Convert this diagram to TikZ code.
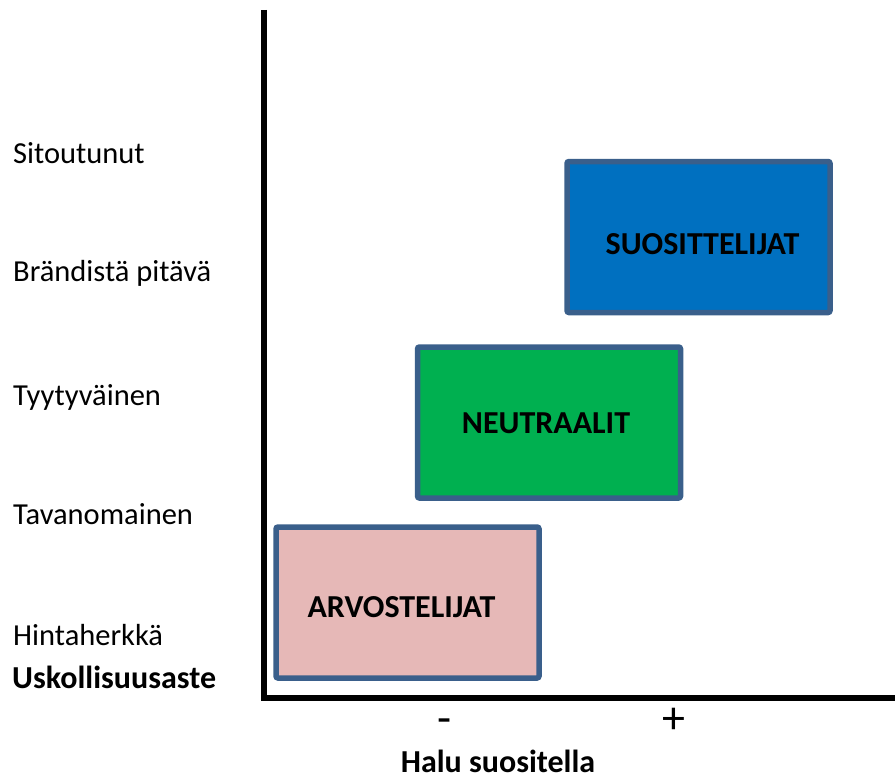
\documentclass[tikz,border=0pt]{standalone}
\usepackage{fontspec}
\setmainfont{Carlito}
\definecolor{boxline}{HTML}{3A5F8B}
\definecolor{redfill}{HTML}{E6B8B7}
\definecolor{greenfill}{HTML}{00B050}
\definecolor{bluefill}{HTML}{0070C0}
\begin{document}
\begin{tikzpicture}[x=1pt,y=-1pt,
  segbox/.style={draw=boxline,line width=5.5pt,rounded corners=2pt,minimum width=263pt,minimum height=151pt,inner sep=0pt},
  boxtext/.style={anchor=base,inner sep=0pt,font=\fontsize{32}{38}\selectfont\bfseries},
  lbl/.style={anchor=base west,inner sep=0pt,font=\fontsize{30.5}{36}\selectfont},
  axislbl/.style={anchor=base,inner sep=0pt,font=\fontsize{32}{38}\selectfont},
  signlbl/.style={anchor=base,inner sep=0pt,font=\fontsize{46}{50}\selectfont}]
\useasboundingbox (0,0) rectangle (895,776);
\coordinate (top) at (264,10);
\coordinate (origin) at (264,697.5);
\coordinate (right) at (895,697.5);
\draw[line width=6pt] (top) -- (origin) -- (right);
\node[segbox,fill=redfill] (arv) at (407.5,602.5) {};
\node[segbox,fill=greenfill] (neu) at (549,422.5) {};
\node[segbox,fill=bluefill] (suo) at (698.5,237) {};
\node[boxtext] (arvt) at (401.5,617) {ARVOSTELIJAT};
\node[boxtext] (neut) at (546,433) {NEUTRAALIT};
\node[boxtext] (suot) at (702.5,254) {SUOSITTELIJAT};
\node[lbl] (l1) at (13,163) {Sitoutunut};
\node[lbl] (l2) at (13,281) {Brändistä pitävä};
\node[lbl] (l3) at (13,405) {Tyytyväinen};
\node[lbl] (l4) at (13,524) {Tavanomainen};
\node[lbl] (l5) at (13,645) {Hintaherkkä};
\node[lbl,font=\fontsize{32}{38}\selectfont\bfseries] (yax) at (12,688) {Uskollisuusaste};
\node[signlbl] (minus) at (445,733) {-};
\node[signlbl] (plus) at (674,733) {+};
\node[axislbl,font=\fontsize{32}{38}\selectfont\bfseries] (xax) at (498,772) {Halu suositella};
\end{tikzpicture}
\end{document}
